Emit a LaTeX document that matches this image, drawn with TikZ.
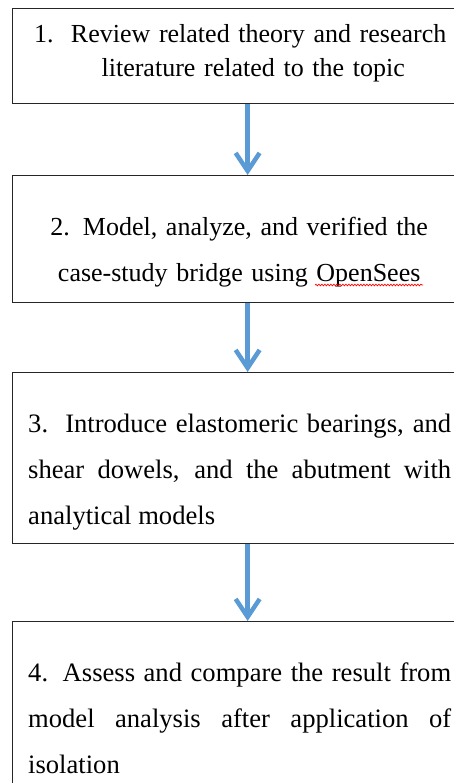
\documentclass[tikz,border=0pt]{standalone}
\usepackage{fontspec}
\setmainfont{Liberation Serif}
\usetikzlibrary{arrows.meta,decorations.pathmorphing}
\definecolor{flowblue}{HTML}{5B9BD5}
\begin{document}
\begin{tikzpicture}[x=1pt,y=-1pt,
  stepbox/.style={draw=black!85, line width=1.3pt, rectangle, anchor=north west,
    minimum width=454pt, inner sep=0pt},
  steptext/.style={anchor=base west, inner sep=0pt, text width=#1},
  flow/.style={draw=flowblue, line width=4.5pt,
    -{Straight Barb[length=18pt,width=24pt]}}]
\clip (0,0) rectangle (454,783);
\useasboundingbox (0,0) rectangle (454,783);

% step boxes (they run past the right margin)
\node[stepbox, minimum height=95pt]  (b1) at (12,8)   {};
\node[stepbox, minimum height=127pt] (b2) at (12,175) {};
\node[stepbox, minimum height=171pt] (b3) at (12,372) {};
\node[stepbox, minimum height=200pt] (b4) at (12,621) {};

% step texts
\node[steptext=440pt, align=center, font=\fontsize{26pt}{34pt}\selectfont] (t1) at (20,43)
  {1.\ \ Review related theory and research\\ \hspace*{26pt}literature related to the topic};
\node[steptext=440pt, align=center, font=\fontsize{26pt}{46pt}\selectfont] (t2) at (19,236)
  {2. Model, analyze, and verified the\\ case-study bridge using OpenSees};
\node[steptext=423pt, align=justify, font=\fontsize{26.6pt}{46pt}\selectfont] (t3) at (28,432)
  {3.\ \ Introduce elastomeric bearings, and\linebreak shear dowels, and the abutment with\linebreak analytical models};
\node[steptext=423pt, align=justify, font=\fontsize{26.6pt}{46pt}\selectfont] (t4) at (28,681)
  {4. Assess and compare the result from\linebreak model analysis after application of\linebreak isolation};

% spell-check squiggle under OpenSees
\draw[red, line width=0.7pt, decorate,
  decoration={snake, amplitude=0.8pt, segment length=3pt}] (315,285) -- (423,285);

% flow arrows
\draw[flow] ([xshift=8pt]b1.south) -- ([xshift=8pt]b2.north);
\draw[flow] ([xshift=8pt]b2.south) -- ([xshift=8pt]b3.north);
\draw[flow] ([xshift=8pt]b3.south) -- ([xshift=8pt]b4.north);
\end{tikzpicture}
\end{document}
